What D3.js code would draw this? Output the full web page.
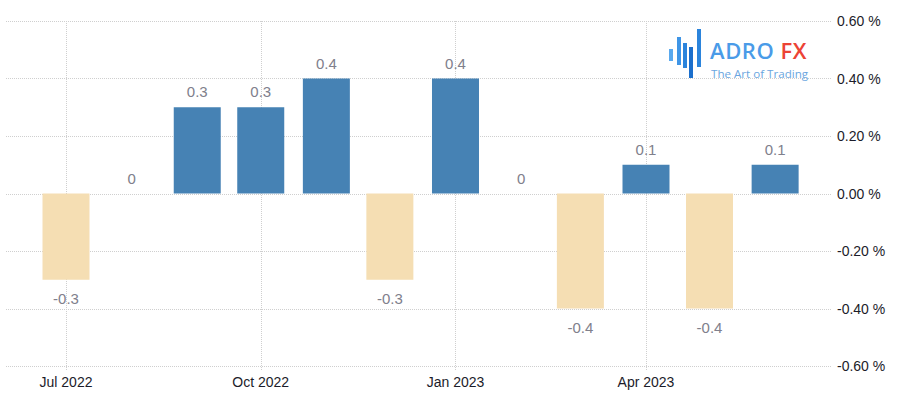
<!DOCTYPE html>
<html>
<head>
<meta charset="utf-8">
<script src="https://cdn.jsdelivr.net/npm/d3@7"></script>
<style>
  html, body { margin: 0; padding: 0; background: #ffffff; }
  svg { display: block; font-family: "Liberation Sans", Arial, sans-serif; }
</style>
</head>
<body>
<svg id="chart" width="904" height="406"></svg>
<script>
// ---- data ----
const months = ["2022-07","2022-08","2022-09","2022-10","2022-11","2022-12",
                "2023-01","2023-02","2023-03","2023-04","2023-05","2023-06"];
const values = [-0.3, 0, 0.3, 0.3, 0.4, -0.3, 0.4, 0, -0.4, 0.1, -0.4, 0.1];
const xTickMonths = ["2022-07","2022-10","2023-01","2023-04"];
const yTicks = [-0.6, -0.4, -0.2, 0, 0.2, 0.4, 0.6];

const parse = d3.timeParse("%Y-%m");
const data = months.map((m, i) => ({ date: parse(m), value: values[i] }));

const svg = d3.select("#chart");
const plotLeft = 6, plotRight = 832, plotTop = 21, plotBottom = 366;

const x = d3.scaleTime()
  .domain([parse("2022-07"), parse("2023-04")])
  .range([66, 646]);
const y = d3.scaleLinear().domain([-0.6, 0.6]).range([plotBottom, plotTop]);

const gridColor = "#cfcfcf";

// horizontal gridlines
svg.append("g").selectAll("line").data(yTicks).join("line")
  .attr("x1", plotLeft).attr("x2", plotRight)
  .attr("y1", d => Math.round(y(d)) + 0.5).attr("y2", d => Math.round(y(d)) + 0.5)
  .attr("stroke", gridColor).attr("stroke-width", 1)
  .attr("stroke-dasharray", "1,1");

// vertical gridlines
const xTicks = xTickMonths.map(parse);
svg.append("g").selectAll("line").data(xTicks).join("line")
  .attr("x1", d => Math.round(x(d)) + 0.5).attr("x2", d => Math.round(x(d)) + 0.5)
  .attr("y1", plotTop).attr("y2", plotBottom + 5)
  .attr("stroke", gridColor).attr("stroke-width", 1)
  .attr("stroke-dasharray", "1,1");

// watermark logo
const logo = svg.append("g");
const logoBars = [
  {x0: 669, w: 4, y0: 49, y1: 61, c: "#5aa9ee"},
  {x0: 677, w: 4, y0: 37, y1: 65, c: "#3f95e6"},
  {x0: 683, w: 4, y0: 43, y1: 68, c: "#2b84dc"},
  {x0: 689, w: 4, y0: 47, y1: 78, c: "#1c6fcc"},
  {x0: 697, w: 4, y0: 29, y1: 67, c: "#2b84dc"}
];
logo.selectAll("rect").data(logoBars).join("rect")
  .attr("x", d => d.x0).attr("y", d => d.y0)
  .attr("width", d => d.w).attr("height", d => d.y1 - d.y0)
  .attr("fill", d => d.c);
const brand = logo.append("text").attr("x", 710).attr("y", 59)
  .style("font-family", "'Open Sans', 'Liberation Sans', sans-serif")
  .style("font-size", "22px").style("font-weight", "600")
  .style("letter-spacing", "0.6px");
brand.append("tspan").attr("fill", "#4a9be8").text("ADRO");
brand.append("tspan").attr("fill", "#ec4335").attr("dx", 6).text("FX");
logo.append("text").attr("x", 711).attr("y", 78)
  .style("font-family", "'Open Sans', 'Liberation Sans', sans-serif")
  .style("font-size", "11.6px").attr("fill", "#6aa6e0")
  .text("The Art of Trading");

// bars
const barW = 47;
svg.append("g").selectAll("rect").data(data.filter(d => d.value !== 0)).join("rect")
  .attr("x", d => x(d.date) - barW / 2)
  .attr("width", barW)
  .attr("y", d => y(Math.max(0, d.value)))
  .attr("height", d => Math.abs(y(d.value) - y(0)))
  .attr("fill", d => d.value > 0 ? "#4682b4" : "#f5deb3");

// value labels
svg.append("g").selectAll("text").data(data).join("text")
  .attr("x", d => x(d.date))
  .attr("y", d => d.value >= 0 ? y(d.value) - 10 : y(d.value) + 24)
  .attr("text-anchor", "middle")
  .attr("fill", "#80808c")
  .style("font-size", "15px")
  .text(d => String(d.value));

// y axis labels (right)
svg.append("g").selectAll("text").data(yTicks).join("text")
  .attr("x", 837).attr("y", d => y(d))
  .attr("dy", "0.36em")
  .attr("fill", "#1c1c2a")
  .style("font-size", "14px")
  .text(d => d3.format(".2f")(d).replace("−", "-") + " %");

// x axis labels
const xFmt = d3.timeFormat("%b %Y");
svg.append("g").selectAll("text").data(xTicks).join("text")
  .attr("x", d => x(d)).attr("y", 387)
  .attr("text-anchor", "middle")
  .attr("fill", "#1c1c2a")
  .style("font-size", "14px")
  .text(d => xFmt(d));
</script>
</body>
</html>
